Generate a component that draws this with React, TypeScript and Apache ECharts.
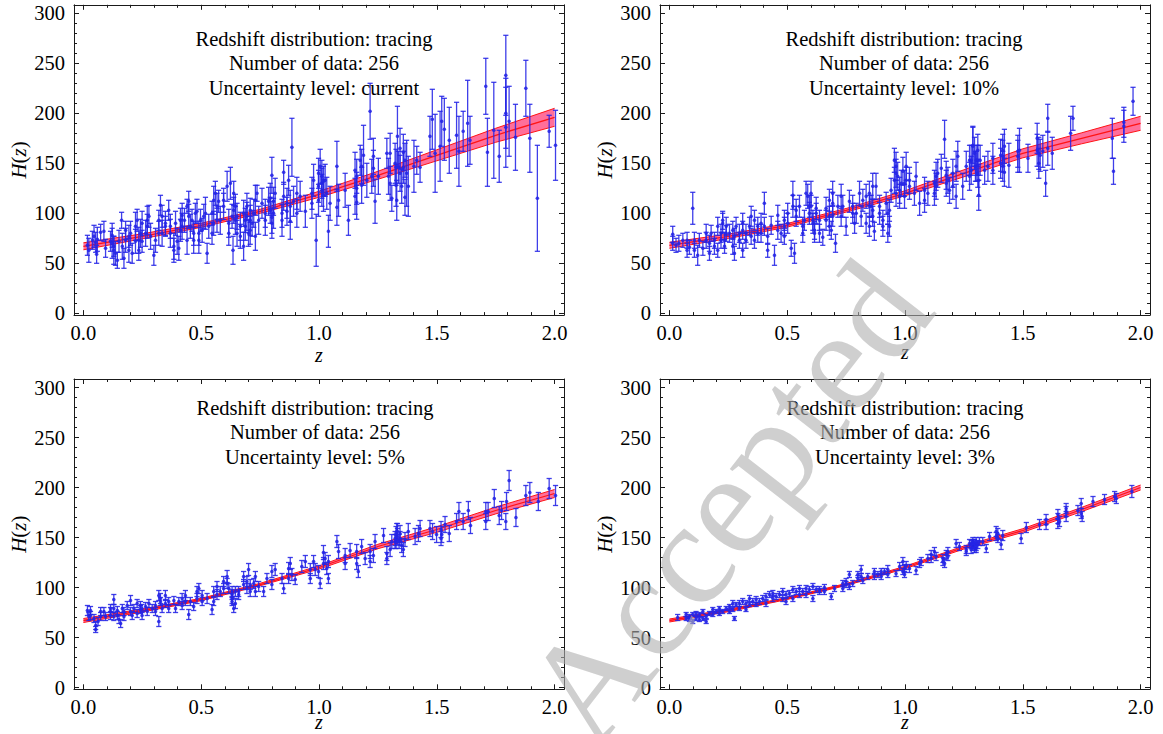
import React, { useEffect, useRef } from 'react';
import * as echarts from 'echarts';

// ---------- tick values ----------
const xMajor = [0, 0.5, 1.0, 1.5, 2.0];
const xMinor = [0.1, 0.2, 0.3, 0.4, 0.6, 0.7, 0.8, 0.9, 1.1, 1.2, 1.3, 1.4, 1.6, 1.7, 1.8, 1.9];
const yMajor = [0, 50, 100, 150, 200, 250, 300];
const yMinor = [10, 20, 30, 40, 60, 70, 80, 90, 110, 120, 130, 140, 160, 170, 180, 190, 210, 220, 230, 240, 260, 270, 280, 290];

// ---------- annotation texts ----------
const uncertaintyLevels = ['current', '10%', '5%', '3%'];
const distributionName = 'tracing';
const numberOfData = 256;

// ---------- reconstructed H(z) band ----------
const zCurve = [0, 0.25, 0.5, 0.75, 1.0, 1.25, 1.5, 1.75, 2.0];
const fitCurrent = [67, 77, 88, 102, 119, 138, 158, 178, 196];
const bandCurrent = [3.5, 2.5, 2, 2, 3, 4, 5.5, 7, 9];
const fit10 = [68, 77, 88, 103, 120, 140, 160, 175, 190];
const band10 = [3, 2.2, 1.8, 1.8, 2.5, 3.5, 4.5, 5.5, 7];
const fit5 = [67, 77, 88, 103, 120, 141, 158, 177, 194];
const band5 = [2, 1.5, 1.2, 1.2, 1.6, 2.2, 2.8, 3.4, 4];
const fit3 = [67, 77, 89, 103, 120, 140, 157, 178, 200];
const band3 = [1.5, 1.2, 1, 1, 1.2, 1.5, 1.8, 2.1, 2.5];

// ---------- data points [z, H(z), sigma] ----------
const dataCurrent: number[][] = [
  [0.017, 68, 10], [0.023, 63, 12], [0.038, 73, 9], [0.045, 77, 11], [0.052, 71, 10], [0.056, 59, 9], [0.059, 74, 12], [0.073, 81, 8],
  [0.087, 82, 10], [0.094, 65, 9], [0.115, 72, 10], [0.122, 78, 12], [0.122, 70, 15], [0.129, 67, 10], [0.129, 63, 14], [0.136, 60, 12],
  [0.144, 53, 8], [0.151, 72, 11], [0.162, 93, 8], [0.165, 67, 13], [0.172, 55, 10], [0.179, 83, 9], [0.179, 73, 12], [0.193, 77, 11],
  [0.193, 63, 12], [0.2, 80, 12], [0.207, 60, 10], [0.221, 87, 14], [0.221, 72, 12], [0.228, 93, 11], [0.235, 73, 13], [0.235, 63, 10],
  [0.242, 80, 14], [0.249, 90, 12], [0.249, 72, 11], [0.264, 80, 13], [0.271, 87, 12], [0.271, 93, 14], [0.278, 97, 11], [0.285, 77, 13],
  [0.299, 58, 10], [0.306, 73, 12], [0.32, 93, 10], [0.32, 80, 12], [0.327, 108, 10], [0.334, 97, 11], [0.334, 80, 13], [0.348, 90, 12],
  [0.348, 87, 10], [0.362, 103, 10], [0.369, 87, 12], [0.369, 80, 14], [0.384, 67, 13], [0.384, 63, 12], [0.391, 90, 12], [0.398, 72, 13],
  [0.405, 65, 12], [0.412, 93, 12], [0.412, 83, 11], [0.419, 98, 12], [0.419, 87, 13], [0.429, 93, 12], [0.44, 107, 7], [0.44, 73, 14],
  [0.447, 112, 10], [0.447, 97, 12], [0.454, 87, 12], [0.461, 93, 11], [0.468, 73, 13], [0.468, 80, 12], [0.475, 100, 10], [0.482, 102, 12],
  [0.49, 73, 13], [0.49, 80, 12], [0.497, 93, 11], [0.504, 83, 12], [0.511, 97, 12], [0.518, 100, 16], [0.525, 60, 10], [0.532, 87, 12],
  [0.546, 80, 11], [0.546, 100, 12], [0.553, 90, 12], [0.553, 113, 14], [0.56, 120, 12], [0.567, 107, 13], [0.567, 93, 12], [0.574, 112, 11],
  [0.581, 93, 14], [0.595, 113, 12], [0.595, 107, 13], [0.61, 127, 15], [0.617, 80, 12], [0.617, 90, 14], [0.624, 130, 16], [0.631, 97, 12],
  [0.635, 63, 14], [0.645, 107, 12], [0.652, 97, 13],
  [0.638, 120, 12], [0.638, 103, 13], [0.645, 93, 14], [0.652, 80, 13], [0.666, 87, 14], [0.666, 77, 12], [0.68, 100, 13], [0.68, 67, 14],
  [0.687, 93, 12], [0.687, 87, 14], [0.694, 107, 13], [0.694, 97, 14], [0.701, 80, 13], [0.708, 93, 15], [0.708, 83, 14], [0.708, 103, 12],
  [0.716, 90, 13], [0.723, 100, 14], [0.73, 113, 15], [0.73, 77, 14], [0.737, 120, 8], [0.744, 93, 14], [0.758, 110, 15], [0.772, 100, 14],
  [0.772, 93, 15], [0.786, 112, 14], [0.793, 115, 15], [0.793, 103, 13], [0.8, 138, 18], [0.8, 96, 16], [0.8, 90, 15], [0.807, 112, 14],
  [0.807, 100, 15], [0.814, 120, 15], [0.843, 100, 14], [0.843, 93, 16], [0.85, 141, 12], [0.85, 117, 14], [0.864, 110, 15], [0.864, 102, 14],
  [0.871, 133, 15], [0.878, 92, 18], [0.878, 107, 16], [0.885, 166, 29], [0.892, 112, 15], [0.906, 120, 16], [0.906, 100, 14], [0.92, 117, 15],
  [0.942, 102, 16], [0.97, 120, 16], [0.97, 110, 15], [0.977, 133, 16], [0.988, 73, 26], [0.998, 113, 16], [0.998, 127, 16], [0.998, 140, 15],
  [1.005, 147, 17], [1.012, 137, 16], [1.012, 130, 15], [1.012, 123, 16], [1.019, 132, 15], [1.019, 118, 16], [1.026, 133, 16], [1.033, 120, 16],
  [1.04, 82, 16], [1.047, 110, 17], [1.076, 106, 18], [1.076, 147, 25], [1.083, 113, 16], [1.111, 123, 17], [1.125, 93, 15], [1.153, 117, 18],
  [1.153, 143, 18], [1.16, 137, 17], [1.16, 125, 16], [1.16, 111, 17], [1.175, 153, 15], [1.181, 147, 17], [1.181, 128, 18], [1.189, 158, 30],
  [1.203, 133, 17], [1.217, 202, 28], [1.224, 137, 17], [1.231, 157, 18], [1.231, 145, 18], [1.238, 112, 22], [1.252, 137, 18], [1.288, 160, 15],
  [1.295, 137, 18], [1.302, 130, 17], [1.323, 150, 20], [1.33, 113, 20], [1.302, 160, 20],
  [1.309, 115, 13], [1.327, 128, 21], [1.327, 146, 18], [1.333, 177, 30], [1.337, 146, 16], [1.344, 165, 20], [1.344, 140, 18], [1.351, 127, 17],
  [1.358, 161, 18], [1.358, 146, 16], [1.365, 153, 17], [1.365, 116, 18], [1.372, 140, 33], [1.379, 127, 30], [1.403, 147, 26], [1.415, 153, 14],
  [1.429, 146, 15], [1.471, 177, 20], [1.481, 194, 30], [1.493, 160, 39], [1.514, 167, 35], [1.521, 192, 25], [1.532, 184, 31], [1.553, 173, 33],
  [1.584, 178, 33], [1.594, 162, 35], [1.612, 182, 20], [1.631, 190, 43], [1.641, 173, 24], [1.708, 227, 28], [1.715, 161, 34], [1.742, 183, 48],
  [1.765, 157, 26], [1.793, 238, 40], [1.793, 200, 35], [1.793, 186, 40], [1.807, 192, 35], [1.834, 176, 33], [1.878, 225, 28], [1.895, 175, 34],
  [1.927, 115, 53], [1.977, 182, 16], [2.004, 168, 35],
];

const data10: number[][] = [
  [0.014, 79, 8], [0.014, 70, 7], [0.028, 68, 7], [0.04, 70, 8], [0.057, 73, 7], [0.075, 73, 8], [0.075, 63, 7], [0.085, 66, 7],
  [0.099, 105, 16], [0.106, 73, 8], [0.106, 63, 7], [0.12, 58, 10], [0.127, 73, 7], [0.142, 65, 7], [0.156, 80, 9], [0.156, 73, 8],
  [0.17, 70, 8], [0.17, 60, 7], [0.177, 80, 8], [0.191, 73, 8], [0.191, 67, 8], [0.205, 87, 9], [0.205, 63, 7], [0.219, 80, 9],
  [0.219, 73, 8], [0.226, 90, 10], [0.226, 93, 9], [0.234, 73, 8], [0.234, 67, 7], [0.241, 87, 9], [0.241, 80, 8], [0.255, 80, 9],
  [0.269, 83, 9], [0.269, 67, 8], [0.276, 77, 8], [0.276, 60, 7], [0.283, 87, 9], [0.297, 80, 9], [0.297, 73, 8], [0.311, 90, 10],
  [0.311, 83, 9], [0.311, 63, 7], [0.325, 80, 9], [0.325, 73, 8], [0.34, 87, 9], [0.347, 97, 10], [0.347, 77, 8], [0.361, 93, 10],
  [0.361, 73, 8], [0.375, 80, 9], [0.375, 87, 9], [0.389, 90, 10], [0.389, 80, 9], [0.403, 110, 11], [0.403, 87, 9], [0.417, 77, 8],
  [0.417, 63, 7], [0.432, 88, 9], [0.446, 58, 10], [0.46, 98, 10], [0.46, 83, 9], [0.474, 80, 9], [0.488, 93, 10], [0.488, 87, 9],
  [0.488, 77, 8], [0.502, 90, 10], [0.502, 100, 10], [0.517, 65, 8], [0.524, 118, 14], [0.524, 107, 11], [0.531, 60, 10], [0.538, 97, 10],
  [0.538, 103, 11], [0.552, 107, 11], [0.566, 87, 9], [0.566, 80, 9], [0.573, 93, 10], [0.58, 120, 12], [0.587, 117, 12], [0.594, 107, 11],
  [0.594, 100, 11], [0.609, 90, 10], [0.616, 80, 9], [0.623, 105, 11],
  [0.601, 120, 12], [0.601, 107, 11], [0.609, 93, 10], [0.616, 83, 9], [0.623, 100, 10], [0.637, 80, 9], [0.637, 93, 10], [0.651, 76, 8],
  [0.665, 105, 11], [0.665, 93, 10], [0.679, 113, 11], [0.679, 97, 10], [0.679, 87, 9], [0.687, 83, 9], [0.693, 120, 12], [0.693, 110, 11],
  [0.693, 97, 10], [0.705, 70, 9], [0.715, 107, 11], [0.729, 117, 12], [0.729, 97, 10], [0.736, 107, 11], [0.75, 87, 9], [0.764, 112, 11],
  [0.778, 107, 11], [0.778, 100, 10], [0.786, 90, 10], [0.793, 100, 10], [0.807, 120, 12], [0.814, 97, 10], [0.821, 113, 11], [0.835, 117, 12],
  [0.835, 90, 10], [0.849, 120, 12], [0.849, 107, 11], [0.849, 87, 10], [0.856, 107, 11], [0.863, 127, 13], [0.863, 103, 11], [0.863, 97, 10],
  [0.87, 82, 9], [0.877, 127, 13], [0.892, 107, 11], [0.892, 100, 11], [0.906, 93, 10], [0.906, 87, 10], [0.92, 110, 11], [0.927, 100, 11],
  [0.927, 80, 9], [0.934, 103, 11], [0.934, 87, 10], [0.941, 123, 12], [0.955, 133, 13], [0.955, 153, 12], [0.962, 147, 14], [0.962, 140, 14],
  [0.962, 120, 13], [0.969, 137, 14], [0.977, 123, 13], [0.977, 117, 12], [0.984, 130, 13], [0.991, 142, 14], [0.998, 117, 12], [0.998, 130, 13],
  [1.005, 147, 14], [1.005, 133, 13], [1.019, 133, 13], [1.019, 127, 13], [1.04, 120, 12], [1.047, 137, 14], [1.062, 110, 12], [1.083, 123, 13],
  [1.083, 113, 12], [1.097, 120, 12], [1.125, 130, 13], [1.125, 120, 12], [1.132, 137, 14], [1.132, 127, 13], [1.139, 140, 14], [1.154, 145, 14],
  [1.168, 174, 19], [1.175, 130, 13], [1.175, 138, 14], [1.182, 133, 13], [1.189, 123, 13], [1.203, 140, 14], [1.203, 127, 13], [1.217, 147, 15],
  [1.217, 117, 12], [1.224, 157, 15], [1.245, 127, 13], [1.26, 147, 15], [1.274, 153, 15], [1.274, 137, 14], [1.288, 168, 18], [1.295, 160, 16],
  [1.302, 147, 15], [1.302, 153, 15],
  [1.281, 153, 15], [1.281, 143, 14], [1.288, 167, 20], [1.299, 147, 15], [1.309, 163, 16], [1.309, 153, 15], [1.309, 140, 14], [1.313, 133, 16],
  [1.313, 118, 15], [1.319, 153, 15], [1.338, 143, 14], [1.352, 147, 15], [1.373, 155, 15], [1.373, 143, 14], [1.406, 158, 16], [1.406, 150, 15],
  [1.415, 147, 15], [1.415, 157, 16], [1.415, 163, 16], [1.422, 141, 14], [1.422, 167, 17], [1.441, 148, 22], [1.479, 157, 16], [1.479, 162, 16],
  [1.486, 163, 22], [1.522, 155, 14], [1.561, 175, 15], [1.561, 163, 16], [1.568, 160, 16], [1.568, 150, 15], [1.574, 158, 16], [1.585, 162, 16],
  [1.597, 130, 13], [1.606, 195, 14], [1.606, 165, 17], [1.625, 160, 16], [1.703, 180, 17], [1.713, 195, 12], [1.88, 175, 20], [1.885, 142, 13],
  [1.929, 191, 15], [1.929, 187, 16], [1.968, 212, 14],
];

const data5: number[][] = [
  [0.017, 77, 5], [0.023, 71, 4], [0.03, 72, 4], [0.03, 77, 4], [0.045, 69, 4], [0.052, 58, 3], [0.052, 62, 4], [0.062, 66, 4],
  [0.073, 76, 4], [0.073, 71, 4], [0.087, 76, 4], [0.094, 71, 4], [0.115, 79, 4], [0.115, 76, 4], [0.115, 72, 4], [0.129, 88, 5],
  [0.129, 79, 4], [0.129, 71, 4], [0.144, 77, 4], [0.144, 72, 4], [0.151, 68, 4], [0.158, 64, 4], [0.165, 79, 4], [0.172, 76, 4],
  [0.172, 71, 4], [0.186, 82, 4], [0.2, 87, 5], [0.2, 76, 4], [0.207, 72, 4], [0.214, 79, 4], [0.228, 84, 4], [0.228, 74, 4],
  [0.242, 82, 4], [0.242, 78, 4], [0.249, 79, 4], [0.249, 72, 4], [0.264, 81, 4], [0.271, 76, 4], [0.278, 84, 4], [0.292, 79, 4],
  [0.306, 76, 4], [0.306, 82, 4], [0.32, 92, 5], [0.32, 66, 5], [0.327, 86, 4], [0.327, 89, 5], [0.334, 79, 4], [0.348, 92, 5],
  [0.348, 84, 4], [0.362, 79, 4], [0.362, 86, 4], [0.384, 87, 4], [0.391, 79, 4], [0.405, 86, 4], [0.419, 89, 5], [0.419, 82, 4],
  [0.433, 92, 5], [0.433, 86, 4], [0.447, 73, 5], [0.454, 86, 4], [0.468, 81, 4], [0.482, 96, 5], [0.482, 89, 5], [0.49, 99, 5],
  [0.504, 92, 5], [0.504, 86, 4], [0.525, 89, 5], [0.546, 78, 5], [0.553, 96, 5], [0.553, 86, 4], [0.567, 101, 5], [0.567, 93, 5],
  [0.581, 96, 5], [0.595, 99, 5], [0.595, 106, 5], [0.61, 111, 6], [0.61, 104, 5], [0.617, 99, 5], [0.631, 93, 5], [0.631, 86, 4],
  [0.638, 79, 4], [0.645, 96, 5], [0.659, 93, 5],
  [0.631, 96, 5], [0.631, 89, 5], [0.645, 84, 5], [0.659, 96, 5], [0.68, 111, 5], [0.68, 103, 5], [0.694, 99, 5], [0.694, 106, 5],
  [0.701, 118, 6], [0.708, 103, 5], [0.708, 96, 5], [0.723, 104, 5], [0.73, 111, 5], [0.73, 96, 5], [0.744, 101, 5], [0.765, 96, 5],
  [0.779, 109, 5], [0.8, 103, 5], [0.8, 116, 6], [0.814, 118, 6], [0.843, 109, 5], [0.85, 99, 5], [0.871, 119, 6], [0.871, 109, 5],
  [0.878, 124, 6], [0.885, 113, 6], [0.899, 108, 5], [0.927, 121, 6], [0.942, 126, 6], [0.963, 118, 6], [0.963, 109, 5], [0.977, 126, 6],
  [0.984, 118, 6], [0.998, 116, 6], [1.005, 104, 5], [1.019, 135, 7], [1.019, 124, 6], [1.026, 129, 6], [1.033, 119, 6], [1.04, 109, 5],
  [1.04, 126, 6], [1.076, 146, 6], [1.083, 136, 7], [1.111, 124, 6], [1.111, 132, 7], [1.132, 137, 7], [1.16, 124, 6], [1.16, 136, 7],
  [1.167, 116, 6], [1.181, 141, 7], [1.196, 129, 6], [1.217, 126, 6], [1.217, 136, 7], [1.231, 132, 7], [1.238, 146, 7], [1.274, 152, 7],
  [1.288, 134, 7], [1.288, 129, 6], [1.323, 146, 7], [1.323, 149, 7], [1.33, 156, 8],
  [1.302, 138, 7], [1.309, 146, 7], [1.327, 146, 7], [1.327, 153, 8], [1.333, 151, 8], [1.333, 156, 8], [1.34, 146, 7], [1.344, 154, 8],
  [1.344, 149, 7], [1.351, 142, 7], [1.358, 138, 7], [1.365, 148, 7], [1.379, 156, 8], [1.408, 151, 8], [1.422, 154, 8], [1.429, 159, 8],
  [1.471, 159, 8], [1.482, 156, 8], [1.499, 153, 8], [1.518, 149, 7], [1.518, 158, 8], [1.521, 153, 8], [1.535, 163, 8], [1.553, 154, 8],
  [1.584, 166, 8], [1.594, 176, 9], [1.612, 166, 8], [1.634, 177, 9], [1.643, 162, 8], [1.708, 166, 8], [1.708, 176, 9], [1.718, 176, 9],
  [1.744, 189, 9], [1.765, 172, 9], [1.775, 177, 9], [1.793, 166, 8], [1.796, 186, 9], [1.807, 207, 10], [1.836, 170, 9], [1.878, 192, 10],
  [1.895, 195, 10], [1.931, 186, 9], [1.977, 199, 10], [2.004, 192, 10],
];

const data3: number[][] = [
  [0.035, 70, 3], [0.071, 73, 2], [0.071, 69, 2], [0.085, 71, 2], [0.085, 68, 2], [0.099, 73, 2], [0.099, 66, 2], [0.113, 69, 2],
  [0.113, 74, 2], [0.127, 73, 2], [0.127, 68, 2], [0.142, 76, 2], [0.142, 69, 2], [0.156, 71, 2], [0.156, 66, 2], [0.17, 74, 2],
  [0.184, 78, 2], [0.184, 73, 2], [0.198, 76, 2], [0.212, 79, 2], [0.212, 74, 2], [0.226, 76, 2], [0.241, 79, 2], [0.255, 81, 2],
  [0.255, 76, 2], [0.269, 84, 3], [0.269, 78, 2], [0.276, 69, 2], [0.283, 83, 2], [0.297, 84, 3], [0.297, 79, 2], [0.311, 86, 3],
  [0.325, 84, 3], [0.325, 78, 2], [0.34, 89, 3], [0.34, 83, 2], [0.354, 86, 3], [0.368, 88, 3], [0.368, 83, 2], [0.382, 86, 3],
  [0.396, 89, 3], [0.41, 91, 3], [0.41, 84, 3], [0.425, 93, 3], [0.439, 94, 3], [0.439, 89, 3], [0.453, 91, 3], [0.467, 93, 3],
  [0.481, 96, 3], [0.481, 89, 3], [0.495, 93, 3], [0.495, 86, 3], [0.509, 94, 3], [0.524, 98, 3], [0.524, 89, 3], [0.538, 96, 3],
  [0.552, 93, 3], [0.552, 99, 3], [0.566, 96, 3], [0.58, 99, 3], [0.58, 93, 3], [0.594, 98, 3], [0.609, 101, 3], [0.609, 89, 3],
  [0.623, 98, 3],
  [0.637, 98, 3], [0.637, 96, 3], [0.658, 100, 3], [0.658, 96, 3], [0.687, 91, 3], [0.701, 99, 3], [0.736, 104, 3], [0.736, 99, 3],
  [0.75, 106, 3], [0.75, 103, 3], [0.764, 113, 3], [0.764, 101, 3], [0.778, 104, 3], [0.8, 113, 3], [0.8, 109, 3], [0.814, 118, 4],
  [0.814, 111, 3], [0.821, 107, 3], [0.842, 111, 3], [0.87, 116, 3], [0.87, 111, 3], [0.885, 113, 3], [0.899, 116, 3], [0.899, 111, 3],
  [0.913, 116, 3], [0.927, 118, 4], [0.927, 113, 3], [0.962, 114, 3], [0.977, 121, 4], [0.991, 126, 4], [0.991, 116, 3], [0.998, 119, 4],
  [0.998, 113, 3], [1.005, 122, 4], [1.019, 119, 4], [1.047, 117, 4], [1.062, 124, 4], [1.069, 126, 4], [1.097, 129, 4], [1.111, 129, 4],
  [1.111, 133, 4], [1.125, 136, 4], [1.132, 131, 4], [1.161, 129, 4], [1.161, 126, 4], [1.168, 124, 4], [1.175, 133, 4], [1.182, 136, 4],
  [1.182, 131, 4], [1.217, 144, 4], [1.231, 141, 4], [1.26, 138, 4], [1.26, 136, 4], [1.274, 144, 4], [1.288, 146, 4], [1.288, 141, 4],
  [1.302, 146, 4], [1.302, 139, 4],
  [1.281, 138, 4], [1.281, 143, 4], [1.288, 144, 4], [1.295, 139, 4], [1.295, 144, 4], [1.302, 141, 4], [1.309, 143, 4], [1.316, 146, 4],
  [1.33, 146, 4], [1.345, 139, 4], [1.359, 151, 4], [1.387, 156, 5], [1.387, 151, 4], [1.394, 149, 4], [1.394, 154, 5], [1.408, 143, 5],
  [1.415, 152, 5], [1.493, 149, 5], [1.515, 160, 5], [1.571, 163, 5], [1.599, 168, 5], [1.599, 163, 5], [1.649, 164, 5], [1.649, 169, 5],
  [1.649, 173, 5], [1.656, 166, 5], [1.684, 179, 5], [1.684, 176, 5], [1.684, 171, 5], [1.734, 177, 5], [1.748, 184, 5], [1.748, 174, 5],
  [1.752, 171, 5], [1.798, 186, 5], [1.847, 188, 5], [1.89, 191, 5], [1.897, 189, 5], [1.963, 196, 6],
];

const FONT = '"Liberation Serif", "Times New Roman", Times, serif';
const BLUE = 'rgba(36,36,230,0.88)';
const RED = '#ff1414';
const BAND_FILL = 'rgba(255,70,125,0.78)';
const FRAME = '#1a1a1a';

const panels = [
  { data: dataCurrent, fit: fitCurrent, band: bandCurrent, level: uncertaintyLevels[0], left: 74, top: 4.8, tx: 314, ty: 26.3, zy: 355 },
  { data: data10, fit: fit10, band: band10, level: uncertaintyLevels[1], left: 660, top: 4.8, tx: 904, ty: 26.3, zy: 352 },
  { data: data5, fit: fit5, band: band5, level: uncertaintyLevels[2], left: 74, top: 379, tx: 315, ty: 395.5, zy: 722 },
  { data: data3, fit: fit3, band: band3, level: uncertaintyLevels[3], left: 660, top: 379, tx: 905, ty: 395.5, zy: 722 },
];

function buildOption() {
  const grid: any[] = [];
  const xAxis: any[] = [];
  const yAxis: any[] = [];
  const series: any[] = [];
  const graphic: any[] = [];
  const lineStyle = { color: FRAME, width: 1 };
  const italic = { fontFamily: FONT, fontSize: 21, fontStyle: 'italic', color: '#000' };

  panels.forEach((p, g) => {
    grid.push({ left: p.left, top: p.top, width: 490, height: 310.3, show: false, containLabel: false, outerBoundsMode: 'none' });
    const xb: any = { gridIndex: g, type: 'value', min: -0.04, max: 2.04, splitLine: { show: false }, nameMoveOverlap: false };
    const yb: any = { gridIndex: g, type: 'value', min: -1.8, max: 308.5, splitLine: { show: false }, nameMoveOverlap: false };

    xAxis.push({
      ...xb, position: 'bottom',
      axisLine: { show: true, onZero: false, lineStyle },
      axisTick: { show: true, inside: true, length: 5, customValues: xMajor, lineStyle },
      axisLabel: { show: true, customValues: xMajor, formatter: (v: number) => v.toFixed(1), fontFamily: FONT, fontSize: 20.5, color: '#000', margin: 7 },
    });
    xAxis.push({ ...xb, position: 'bottom', axisLine: { show: false, onZero: false }, axisTick: { show: true, inside: true, length: 3, customValues: xMinor, lineStyle }, axisLabel: { show: false } });
    xAxis.push({ ...xb, position: 'top', axisLine: { show: true, onZero: false, lineStyle }, axisTick: { show: true, inside: true, length: 5, customValues: xMajor, lineStyle }, axisLabel: { show: false } });
    xAxis.push({ ...xb, position: 'top', axisLine: { show: false, onZero: false }, axisTick: { show: true, inside: true, length: 3, customValues: xMinor, lineStyle }, axisLabel: { show: false } });

    yAxis.push({
      ...yb, position: 'left',
      axisLine: { show: true, onZero: false, lineStyle },
      axisTick: { show: true, inside: true, length: 5, customValues: yMajor, lineStyle },
      axisLabel: { show: true, customValues: yMajor, fontFamily: FONT, fontSize: 20.5, color: '#000', margin: 9 },
      name: '{i|H}({i|z})', nameLocation: 'middle', nameGap: 45, nameRotate: 90,
      nameTextStyle: { fontFamily: FONT, fontSize: 21, color: '#000', rich: { i: italic } },
    });
    yAxis.push({ ...yb, position: 'left', axisLine: { show: false, onZero: false }, axisTick: { show: true, inside: true, length: 3, customValues: yMinor, lineStyle }, axisLabel: { show: false } });
    yAxis.push({ ...yb, position: 'right', axisLine: { show: true, onZero: false, lineStyle }, axisTick: { show: true, inside: true, length: 5, customValues: yMajor, lineStyle }, axisLabel: { show: false } });
    yAxis.push({ ...yb, position: 'right', axisLine: { show: false, onZero: false }, axisTick: { show: true, inside: true, length: 3, customValues: yMinor, lineStyle }, axisLabel: { show: false } });

    const xi = g * 4;
    const yi = g * 4;
    const fit = p.fit;
    const band = p.band;
    // confidence band: fill + boundaries + central curve, all through the axis scales
    series.push({
      type: 'custom', xAxisIndex: xi, yAxisIndex: yi, silent: true, z: 2,
      data: zCurve.map((z, i) => [z, fit[i], band[i]]), encode: { x: 0, y: 1 },
      renderItem: (params: any, api: any) => {
        if (params.dataIndex !== 0) return null;
        const up = zCurve.map((z, i) => api.coord([z, fit[i] + band[i]]));
        const lo = zCurve.map((z, i) => api.coord([z, fit[i] - band[i]]));
        const mid = zCurve.map((z, i) => api.coord([z, fit[i]]));
        const poly = up.concat(lo.slice().reverse());
        return {
          type: 'group',
          children: [
            { type: 'polygon', shape: { points: poly }, style: { fill: BAND_FILL, stroke: 'none' } },
            { type: 'polyline', shape: { points: up }, style: { stroke: RED, lineWidth: 1, fill: 'none' } },
            { type: 'polyline', shape: { points: lo }, style: { stroke: RED, lineWidth: 1, fill: 'none' } },
            { type: 'polyline', shape: { points: mid }, style: { stroke: RED, lineWidth: 1.3, fill: 'none' } },
          ],
        };
      },
    });
    // error bars
    series.push({
      type: 'custom', xAxisIndex: xi, yAxisIndex: yi, silent: true, z: 3,
      data: p.data, encode: { x: 0, y: 1 },
      renderItem: (params: any, api: any) => {
        const z = api.value(0);
        const h = api.value(1);
        const e = api.value(2);
        const top = api.coord([z, h + e]);
        const bot = api.coord([z, h - e]);
        const c = api.coord([z, h]);
        const cw = 2.6;
        const st = { stroke: BLUE, lineWidth: 1.3 };
        return {
          type: 'group',
          children: [
            { type: 'line', shape: { x1: top[0], y1: top[1], x2: bot[0], y2: bot[1] }, style: st },
            { type: 'line', shape: { x1: top[0] - cw, y1: top[1], x2: top[0] + cw, y2: top[1] }, style: st },
            { type: 'line', shape: { x1: bot[0] - cw, y1: bot[1], x2: bot[0] + cw, y2: bot[1] }, style: st },
            { type: 'circle', shape: { cx: c[0], cy: c[1], r: 1.8 }, style: { fill: BLUE } },
          ],
        };
      },
    });

    graphic.push({
      type: 'text', x: p.tx, y: p.ty, z: 10, silent: true,
      style: {
        text: `Redshift distribution: ${distributionName}\nNumber of data: ${numberOfData}\nUncertainty level: ${p.level}`,
        fontFamily: FONT, fontSize: 20.5, lineHeight: 24.5, fill: '#000', align: 'center', verticalAlign: 'top',
      },
    });
    // x-axis title (italic z)
    graphic.push({
      type: 'text', x: p.left + 245, y: p.zy, z: 10, silent: true,
      style: {
        text: 'z', font: 'italic 20px "Liberation Serif", "Times New Roman", serif', fontStyle: 'italic',
        lineHeight: 14, fill: '#000', align: 'center', verticalAlign: 'middle',
      },
    });
  });

  graphic.push({
    type: 'text', x: 727, y: 502, rotation: 0.91, z: 20, silent: true,
    style: {
      text: 'Accepted', fontFamily: FONT, fontSize: 148, fill: 'rgba(175,175,175,0.6)', align: 'center', verticalAlign: 'middle',
    },
  });

  return { animation: false, backgroundColor: '#fff', grid, xAxis, yAxis, series, graphic };
}

export default function App() {
  const ref = useRef<HTMLDivElement>(null);
  useEffect(() => {
    if (!ref.current) return;
    const chart = echarts.init(ref.current, undefined, { renderer: 'svg' });
    chart.setOption(buildOption() as any);
    return () => chart.dispose();
  }, []);
  return <div ref={ref} style={{ position: 'fixed', left: 0, top: 0, width: 1163, height: 734, background: '#fff' }} />;
}
